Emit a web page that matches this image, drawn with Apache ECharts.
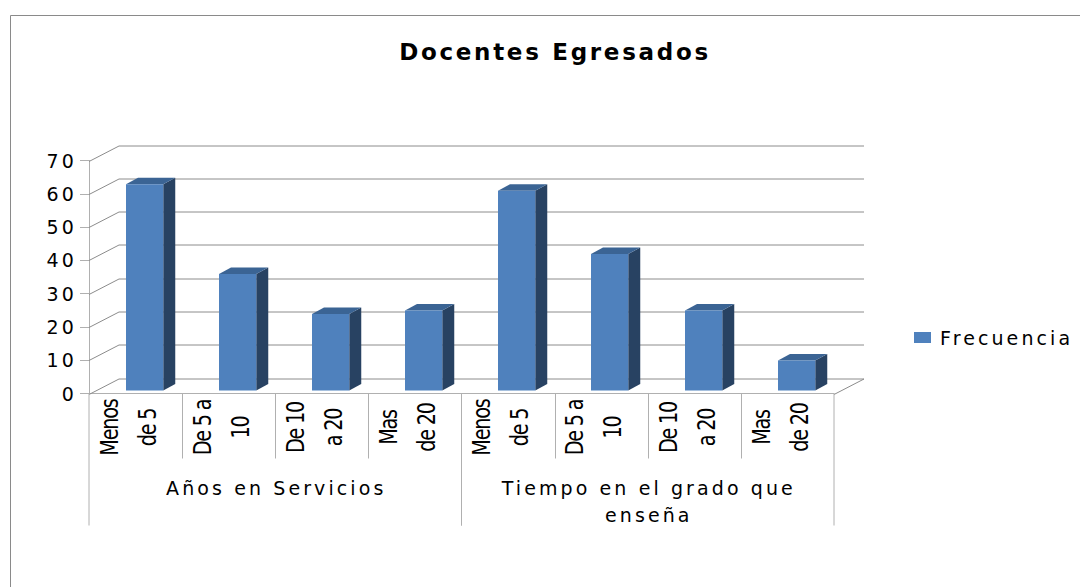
<!DOCTYPE html>
<html><head><meta charset="utf-8">
<style>
html,body{margin:0;padding:0;background:#fff}
#c{width:1080px;height:587px}
svg text[style*="19px"]{letter-spacing:3.1px}
svg text[style*="23px"]{letter-spacing:2.7px}
svg text[style*="24px"]{letter-spacing:-1.5px}
</style>
<script src="https://cdn.jsdelivr.net/npm/echarts@6/dist/echarts.min.js"></script>
</head><body><div id="c"></div>
<script>
const titleText = 'Docentes Egresados';
const seriesName = 'Frecuencia';
const categories = ['Menos de 5','De 5 a 10','De 10 a 20','Mas de 20','Menos de 5','De 5 a 10','De 10 a 20','Mas de 20'];
const categoryLine1 = ['Menos','De 5 a','De 10','Mas','Menos','De 5 a','De 10','Mas'];
const categoryLine2 = ['de 5','10','a 20','de 20','de 5','10','a 20','de 20'];
const values = [62,35,23,24,60,41,24,9];
const yTicks = [0,10,20,30,40,50,60,70];
const groupNames = ['Años en Servicios','Tiempo en el grado que\nenseña'];
const groupFirst = [0,4];
const groupLast = [3,7];

const FONT = '"DejaVu Sans"';
const LINE = '#8c8c8c', AXIS = '#b0b0b0';
const DX = 30, DY = 15.5;

const chart = echarts.init(document.getElementById('c'), null, {renderer:'svg', width:1080, height:587});
const seg = (x1,y1,x2,y2,c)=>({type:'line',shape:{x1,y1,x2,y2},style:{stroke:c,lineWidth:1}});

chart.setOption({
  animation:false,
  backgroundColor:'#fff',
  title:{text:titleText,left:550,top:35,textAlign:'center',
    textStyle:{fontFamily:FONT,fontSize:23,fontWeight:'bold',color:'#000'}},
  legend:{data:[{name:seriesName,icon:'rect'}],left:914,top:328,padding:0,itemWidth:17,itemHeight:11,itemGap:6,
    textStyle:{fontFamily:FONT,fontSize:19,color:'#000',padding:[0,0,0,4]}},
  grid:{left:89,top:160.5,width:745,height:233},
  xAxis:{type:'category',data:categories,
    axisLine:{show:true,lineStyle:{color:AXIS,width:1}},axisTick:{show:false},axisLabel:{show:false}},
  yAxis:{type:'value',min:0,max:70,interval:10,splitLine:{show:false},
    axisLine:{show:true,lineStyle:{color:AXIS,width:1}},
    axisTick:{show:true,length:9,lineStyle:{color:AXIS}},
    axisLabel:{fontFamily:FONT,fontSize:19,color:'#000',margin:12,padding:[5,0,0,0]}},
  graphic:[
    {type:'line',shape:{x1:10.5,y1:15.5,x2:1080,y2:15.5},style:{stroke:'#8a8a8a',lineWidth:1}},
    {type:'line',shape:{x1:10.5,y1:15.5,x2:10.5,y2:587},style:{stroke:'#8a8a8a',lineWidth:1}}
  ],
  series:[
    {type:'custom',name:'walls',data:yTicks.map(v=>[0,v]),encode:{x:0,y:1},silent:true,clip:false,z:1,
      renderItem(params,api){
        const cs=params.coordSys, y=Math.round(api.coord([0,api.value(1)])[1])+0.5, l=cs.x, r=cs.x+cs.width;
        const kids=[seg(l,y,l+DX,y-DY,LINE),seg(l+DX,y-DY,r+DX,y-DY,LINE)];
        if(api.value(1)===0) kids.push(seg(r,y,r+DX,y-DY,LINE));
        return {type:'group',children:kids};
      }},
    {type:'custom',name:seriesName,data:values.map((v,i)=>[i,v]),encode:{x:0,y:1},silent:true,clip:false,z:3,
      itemStyle:{color:'#4F81BD'},
      renderItem(params,api){
        const b=api.size([1,0])[0], w=b*0.4, p=api.coord([api.value(0),api.value(1)]), base=api.coord([api.value(0),0]);
        const x=Math.round(p[0]+b*0.095-w/2), up=3, yt=p[1]-up, yb=base[1]-up, dx=12, dy=6.5;
        return {type:'group',children:[
          {type:'polygon',shape:{points:[[x+w,yb],[x+w+dx,yb-dy],[x+w+dx,yt-dy],[x+w,yt]]},style:{fill:'#284262'}},
          {type:'polygon',shape:{points:[[x,yt],[x+dx,yt-dy],[x+w+dx,yt-dy],[x+w,yt]]},style:{fill:'#3B6494'}},
          {type:'rect',shape:{x,y:yt,width:w,height:yb-yt},style:{fill:'#4F81BD'}}
        ]};
      }},
    {type:'custom',name:'categoryLabels',data:categories.map((c,i)=>[i,0]),encode:{x:0,y:1},silent:true,clip:false,z:2,
      renderItem(params,api){
        const i=api.value(0), b=api.size([1,0])[0], p=api.coord([i,0]), y0=p[1];
        const txt=(t,off)=>({type:'text',x:p[0]+off,y:y0+34,rotation:Math.PI/2,scaleX:0.8,
          style:{text:t,font:'24px '+FONT,fill:'#000',align:'center',verticalAlign:'middle'}});
        const kids=[txt(categoryLine1[i],-26),txt(categoryLine2[i],12)];
        const x=Math.round(p[0]+b/2)+0.5;
        if(i<7 && i!==3) kids.push(seg(x,y0,x,y0+65,AXIS));
        return {type:'group',children:kids};
      }},
    {type:'custom',name:'groupLabels',data:groupNames.map((g,i)=>[groupFirst[i],0]),encode:{x:0,y:1},silent:true,clip:false,z:2,
      renderItem(params,api){
        const i=params.dataIndex, b=api.size([1,0])[0];
        const a=api.coord([groupFirst[i],0]), z=api.coord([groupLast[i],0]);
        const l=a[0]-b/2, r=z[0]+b/2, y0=a[1];
        return {type:'group',children:[
          seg(l,y0,l,y0+132,AXIS), seg(r,y0,r,y0+132,AXIS),
          {type:'text',x:(l+r)/2+1,y:y0+81,style:{text:groupNames[i],font:'19px '+FONT,lineHeight:27,fill:'#000',align:'center',verticalAlign:'top'}}
        ]};
      }}
  ]
});
</script></body></html>
